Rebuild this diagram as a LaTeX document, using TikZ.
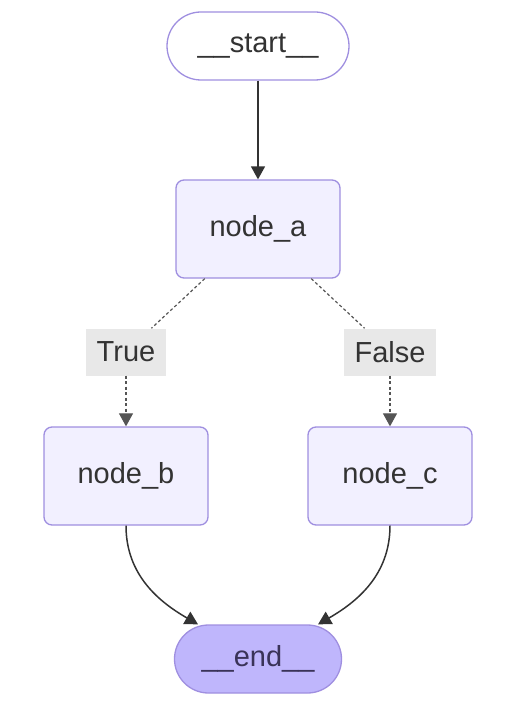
\documentclass[tikz,border=0pt]{standalone}
\usepackage{fontspec}
\setmainfont{Liberation Sans}
\usetikzlibrary{arrows.meta}
\definecolor{nodofondo}{HTML}{F2F0FF}
\definecolor{nodoborde}{HTML}{9F8FE0}
\definecolor{finfondo}{HTML}{BFB6FC}
\definecolor{textogris}{HTML}{333333}
\definecolor{textofin}{HTML}{3A3358}
\definecolor{etiqfondo}{HTML}{E8E8E8}
\definecolor{lineagris}{HTML}{333333}
\definecolor{puntogris}{HTML}{555555}

\begin{document}
\begin{tikzpicture}[x=1pt, y=-1pt, >={Triangle[width=14pt,length=13pt]},
    nodo/.style={draw=nodoborde, fill=nodofondo, line width=1.3pt, rounded corners=8pt,
        minimum width=164pt, minimum height=98pt, text=textogris, font=\fontsize{29}{34}\selectfont},
    extremo/.style={nodo, rounded corners=34pt, minimum height=68pt},
    etiqueta/.style={fill=etiqfondo, minimum height=47pt, inner xsep=11pt,
        text=textogris, font=\fontsize{29}{34}\selectfont},
    arista/.style={draw=lineagris, line width=1.5pt},
    punteada/.style={draw=puntogris, line width=1.2pt, dash pattern=on 3pt off 2.5pt}]
    \useasboundingbox (0,0) rectangle (514,714);
    % inicio y fin
    \node[extremo, fill=white, minimum width=182pt] (inicio) at (258,46) {\_\_start\_\_};
    \node[extremo, fill=finfondo, text=textofin, minimum width=167pt] (fin) at (258,659) {\_\_end\_\_};
    % nodos del grafo
    \node[nodo] (na) at (258,229) {node\_a};
    \node[nodo] (nb) at (126,476) {node\_b};
    \node[nodo] (nc) at (390,476) {node\_c};
    % etiquetas de la condicion
    \node[etiqueta] (verdadero) at (126,352) {True};
    \node[etiqueta] (falso) at (390,352) {False};
    % aristas
    \draw[->, arista] (inicio) -- (na);
    \draw[punteada] (na) -- (verdadero);
    \draw[->, punteada] (verdadero) -- (nb);
    \draw[punteada] (na) -- (falso);
    \draw[->, punteada] (falso) -- (nc);
    \draw[->, arista] (nb.south) .. controls +(0,50) and +(-38,-22) .. (fin.150);
    \draw[->, arista] (nc.south) .. controls +(0,50) and +(38,-22) .. (fin.30);
\end{tikzpicture}
\end{document}
